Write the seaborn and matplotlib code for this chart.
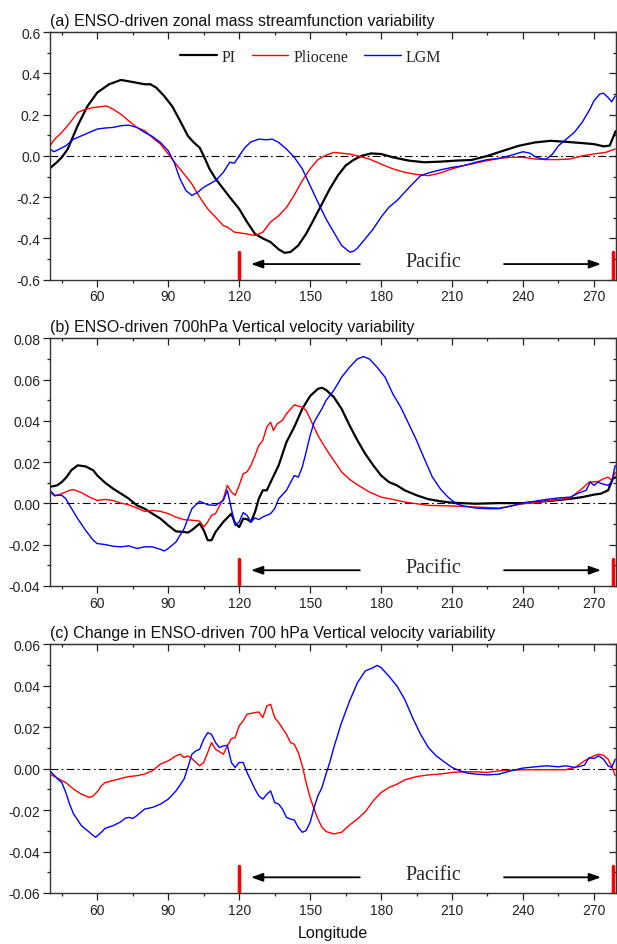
import matplotlib
matplotlib.use("Agg")
import matplotlib.pyplot as plt
import seaborn as sns

# -----------------------------
# Data
# -----------------------------
# (a) zonal mass streamfunction
a_pi_lon = [40, 43, 45, 47.5, 51.7, 55.8, 60, 65, 70, 75, 80, 82.5, 85, 88.3, 91.7, 95, 98.3, 100.8,
            103.3, 105, 107.5, 110, 113.3, 116.7, 120, 123.3, 126.7, 130, 133.3, 136.7, 139.2, 141.7,
            145, 148.3, 151.7, 155, 158.3, 161.7, 165, 168.3, 171.7, 175.8, 180, 185, 191.7, 198.3,
            205, 211.7, 218.3, 225, 231.7, 238.3, 245, 251.7, 258.3, 265, 270, 274.2, 276.7, 279.2]
a_pi = [-0.06, -0.03, -0.007, 0.033, 0.146, 0.24, 0.307, 0.347, 0.368, 0.358, 0.347, 0.347, 0.33,
        0.29, 0.24, 0.17, 0.097, 0.065, 0.04, 0.0, -0.064, -0.11, -0.16, -0.21, -0.257, -0.32,
        -0.378, -0.40, -0.418, -0.453, -0.47, -0.466, -0.434, -0.378, -0.305, -0.233, -0.16, -0.096,
        -0.047, -0.02, 0.0, 0.012, 0.009, -0.007, -0.023, -0.031, -0.028, -0.023, -0.02, 0.0, 0.025,
        0.049, 0.065, 0.073, 0.068, 0.062, 0.057, 0.046, 0.05, 0.12]

a_plio_lon = [40, 42, 45, 48, 51.7, 55, 58.3, 61.7, 64, 66.7, 70, 73.3, 76.7, 80, 83.3, 86.7, 90,
              93.3, 96.7, 100, 103.3, 106.7, 110, 113.3, 115, 118, 120, 123, 126.7, 130, 133.3,
              136.7, 140, 143.3, 146.7, 150, 153.3, 156.7, 160, 163.3, 166.7, 170, 175, 180, 185,
              190, 195, 200, 205, 210, 215, 220, 225, 230, 235, 240, 245, 250, 255, 260, 265, 270,
              275, 279]
a_plio = [0.049, 0.081, 0.114, 0.154, 0.21, 0.226, 0.234, 0.239, 0.242, 0.226, 0.202, 0.17, 0.138,
          0.122, 0.089, 0.057, 0.009, -0.04, -0.088, -0.136, -0.2, -0.257, -0.297, -0.338, -0.345,
          -0.37, -0.373, -0.378, -0.386, -0.37, -0.32, -0.29, -0.25, -0.19, -0.12, -0.063, -0.018,
          0.003, 0.017, 0.013, 0.009, 0.0, -0.015, -0.04, -0.063, -0.08, -0.09, -0.096, -0.083,
          -0.063, -0.047, -0.035, -0.023, -0.012, -0.007, -0.007, -0.015, -0.018, -0.018, -0.015,
          0.0, 0.009, 0.017, 0.033]

a_lgm_lon = [40, 41.7, 44, 46.7, 50, 53.3, 56.7, 60, 63.3, 66.7, 70, 73.3, 76.7, 80, 83.3, 86.7, 90,
             92.5, 95, 97.5, 100, 102.5, 105, 107.5, 110, 113.3, 116, 118, 120, 122.5, 125, 128.3,
             131.7, 134, 136.7, 140, 143.3, 146.7, 150, 153.3, 156.7, 160, 163.3, 166.7, 168.3, 170,
             173.3, 176.7, 180, 183.3, 186.7, 190, 193.3, 196.7, 200, 205, 210, 215, 220, 225, 230,
             235, 240, 243, 245, 248, 250, 252.5, 255, 258.3, 261.7, 265, 268.3, 270, 272.5, 274,
             276, 277.5, 279]
a_lgm = [0.033, 0.02, 0.033, 0.049, 0.081, 0.097, 0.114, 0.13, 0.135, 0.138, 0.146, 0.149, 0.138,
         0.114, 0.094, 0.065, 0.025, -0.031, -0.112, -0.168, -0.192, -0.176, -0.152, -0.136, -0.12,
         -0.08, -0.031, -0.035, 0.0, 0.041, 0.068, 0.081, 0.078, 0.081, 0.065, 0.033, -0.007,
         -0.063, -0.144, -0.225, -0.305, -0.37, -0.434, -0.466, -0.463, -0.447, -0.402, -0.354,
         -0.297, -0.249, -0.217, -0.176, -0.136, -0.096, -0.083, -0.068, -0.056, -0.047, -0.031,
         -0.018, -0.012, 0.003, 0.02, 0.013, -0.003, -0.015, -0.015, 0.009, 0.049, 0.081, 0.114,
         0.162, 0.226, 0.267, 0.3, 0.304, 0.283, 0.262, 0.29]

# (b) 700hPa vertical velocity
b_pi_lon = [40, 43, 45, 47, 49, 51.7, 55, 58.3, 60, 63.3, 66.7, 70, 73.3, 76.7, 80, 83.3, 86.7, 90,
            93.3, 96.7, 98.3, 100, 103.3, 105, 106.7, 108.3, 110, 113.3, 116.7, 118.3, 120, 121.7,
            123.3, 125, 126.7, 128.3, 130, 131.7, 133.3, 136.7, 140, 143.3, 146.7, 150, 153.3, 155,
            156.7, 160, 163.3, 166.7, 170, 173.3, 176.7, 180, 183.3, 186.7, 190, 195, 200, 205, 210,
            220, 230, 240, 250, 260, 265, 270, 273, 276, 278, 279.5]
b_pi = [0.008, 0.0087, 0.0103, 0.0127, 0.016, 0.0184, 0.0179, 0.016, 0.0135, 0.010, 0.0071, 0.0047,
        0.0023, -0.001, -0.0026, -0.005, -0.0074, -0.0107, -0.0136, -0.0139, -0.0142, -0.013,
        -0.0098, -0.013, -0.0179, -0.0179, -0.0139, -0.009, -0.005, -0.0098, -0.0115, -0.0074,
        -0.0077, -0.009, -0.0042, 0.0022, 0.0063, 0.0063, 0.0103, 0.0184, 0.0297, 0.037, 0.0458,
        0.052, 0.0555, 0.056, 0.055, 0.0515, 0.0458, 0.0377, 0.0305, 0.024, 0.0184, 0.0135, 0.0103,
        0.0087, 0.0063, 0.0039, 0.002, 0.001, 0.0003, -0.0002, 0.0001, 0.0001, 0.001, 0.0022, 0.003,
        0.0042, 0.0047, 0.0063, 0.012, 0.0127]

b_plio_lon = [40, 42, 45, 48.3, 50, 53.3, 56.7, 60, 63.3, 66.7, 70, 73.3, 76.7, 80, 83.3, 86.7, 90,
              93.3, 96.7, 100, 103.3, 105, 106.7, 108.3, 110, 113.3, 115, 116.7, 118.3, 120, 121.7,
              123.3, 125, 126.7, 128.3, 130, 131.7, 133.3, 134.5, 136, 138.3, 140, 143.3, 146.7,
              148.3, 150, 153.3, 156.7, 160, 163.3, 166.7, 170, 175, 180, 185, 190, 195, 200, 210,
              220, 230, 240, 250, 260, 265, 268, 272, 274, 276, 277.5, 279]
b_plio = [0.0055, 0.0035, 0.0047, 0.0063, 0.0066, 0.0052, 0.003, 0.0014, 0.0019, 0.0014, 0.0001,
          -0.0007, -0.0023, -0.0039, -0.0034, -0.0039, -0.005, -0.0067, -0.0079, -0.0082, -0.0086,
          -0.0115, -0.009, -0.0058, -0.005, 0.0022, 0.0087, 0.0055, 0.0039, 0.0087, 0.0143, 0.0152,
          0.0184, 0.0232, 0.028, 0.0305, 0.037, 0.0393, 0.0353, 0.0385, 0.0402, 0.0434, 0.0477,
          0.0466, 0.045, 0.041, 0.0329, 0.0264, 0.0208, 0.0152, 0.0116, 0.009, 0.0055, 0.003,
          0.0019, 0.0006, -0.0002, -0.001, -0.0013, -0.0018, -0.0023, -0.0002, 0.001, 0.0026,
          0.0071, 0.0103, 0.0106, 0.0119, 0.0127, 0.0111, 0.015]

b_lgm_lon = [40, 42, 45, 46.7, 48.3, 50, 51.7, 55, 58.3, 60, 63.3, 66.7, 70, 73.3, 76.7, 80, 83.3,
             86.7, 88.3, 90, 93.3, 96.7, 100, 103.3, 106.7, 110, 113.3, 115, 116.7, 118.3, 120,
             121.7, 123.3, 125, 126.7, 128.3, 130, 133.3, 135, 136.7, 140, 143.3, 145, 146.7, 148.3,
             150, 151.7, 153.3, 155, 156.7, 160, 163.3, 166.7, 170, 172.5, 175, 178.3, 181.7, 185,
             188.3, 191.7, 195, 198.3, 201.7, 205, 208.3, 211.7, 215, 220, 225, 230, 235, 240, 245,
             250, 255, 260, 263, 266.7, 268.5, 270, 271.7, 273.3, 276, 277.5, 279]
b_lgm = [0.0063, 0.0039, 0.0039, 0.0022, -0.001, -0.0042, -0.0074, -0.013, -0.0179, -0.0195, -0.02,
         -0.0208, -0.0211, -0.0206, -0.0219, -0.0211, -0.0211, -0.0223, -0.0231, -0.0219, -0.0187,
         -0.0123, -0.0026, 0.001, -0.0007, -0.001, 0.0014, 0.0063, -0.0026, -0.0107, -0.009,
         -0.0045, -0.0058, -0.009, -0.0071, -0.0079, -0.0066, -0.005, -0.0026, 0.0022, 0.0063,
         0.0135, 0.0127, 0.0176, 0.0248, 0.0329, 0.0393, 0.0426, 0.0458, 0.0498, 0.0547, 0.0611,
         0.066, 0.07, 0.0711, 0.07, 0.066, 0.0611, 0.053, 0.0466, 0.0385, 0.0305, 0.0216, 0.0127,
         0.0071, 0.003, -0.0002, -0.0013, -0.0023, -0.0026, -0.0026, -0.0013, 0.0001, 0.001,
         0.0019, 0.0026, 0.003, 0.0047, 0.0063, 0.0103, 0.0087, 0.0103, 0.0095, 0.0087, 0.0103,
         0.0184]

# (c) change in 700 hPa vertical velocity
c_plio_lon = [40, 43.3, 46.7, 50, 53.3, 56.7, 58.3, 60, 61.7, 63.3, 66.7, 70, 73.3, 76.7, 80, 83.3,
              86.7, 90, 93.3, 95, 96.7, 98.3, 100, 103.3, 105, 106.7, 108.3, 110, 113.3, 115,
              116.7, 118.3, 120, 121.7, 123.3, 126.7, 128.3, 130, 131.7, 133.3, 135, 136.7, 140,
              141.7, 143.3, 145, 146.7, 148.3, 150, 151.7, 153.3, 155, 156.7, 160, 163.3, 166.7,
              170, 173.3, 176.7, 180, 183.3, 186.7, 190, 195, 200, 205, 210, 215, 220, 225, 230,
              240, 250, 258, 262, 266, 270, 272, 274, 276, 278, 279]
c_plio = [-0.0026, -0.0047, -0.0067, -0.0099, -0.0123, -0.0139, -0.0131, -0.0111, -0.0083, -0.0067,
          -0.0057, -0.0047, -0.0038, -0.0034, -0.0026, -0.001, 0.0022, 0.0038, 0.0062, 0.007,
          0.0054, 0.0062, 0.0049, 0.0014, 0.003, 0.0078, 0.0126, 0.0094, 0.007, 0.011, 0.0145,
          0.015, 0.0207, 0.0231, 0.0263, 0.0271, 0.0274, 0.0247, 0.0303, 0.0311, 0.0247, 0.0223,
          0.0166, 0.0126, 0.0118, 0.0078, 0.0014, -0.0067, -0.0139, -0.0195, -0.0243, -0.0283,
          -0.0303, -0.0315, -0.0307, -0.0272, -0.0243, -0.0208, -0.0155, -0.0115, -0.0091, -0.0075,
          -0.0054, -0.0038, -0.003, -0.0026, -0.0018, -0.0015, -0.0015, -0.0018, -0.001, -0.0005,
          -0.0005, -0.0005, 0.0006, 0.0038, 0.0062, 0.007, 0.0065, 0.0046, -0.0002, -0.0034]

c_lgm_lon = [40, 43.3, 45, 46.7, 48.3, 50, 53.3, 56.7, 58.3, 59.3, 61.7, 63.3, 66.7, 70, 71.7, 73.3,
             75, 76.7, 80, 83.3, 86.7, 90, 93.3, 96.7, 98.3, 100, 101.7, 103.3, 105, 106.7, 108.3,
             110, 111.7, 113.3, 115, 116.7, 118.3, 120, 121.7, 123.3, 125, 126.7, 128.3, 130, 131.7,
             133.3, 135, 136.7, 138.3, 140, 141.7, 143.3, 145, 146.7, 148.3, 150, 151.7, 153.3, 155,
             156.7, 158.3, 160, 163.3, 166.7, 170, 173.3, 176.7, 178.3, 180, 183.3, 186.7, 190,
             193.3, 196.7, 200, 203.3, 206.7, 210, 213.3, 216.7, 220, 225, 230, 235, 240, 245, 250,
             255, 258, 262, 266, 268, 270, 272, 274, 276, 277.5, 279]
c_lgm = [-0.001, -0.005, -0.0067, -0.0115, -0.0171, -0.0219, -0.0275, -0.0307, -0.0323, -0.0331,
         -0.0307, -0.0288, -0.0275, -0.0256, -0.024, -0.0235, -0.024, -0.0227, -0.0195, -0.0187,
         -0.0171, -0.0147, -0.0107, -0.005, 0.0006, 0.007, 0.0086, 0.0094, 0.0142, 0.0174, 0.0166,
         0.0126, 0.0102, 0.011, 0.0113, 0.003, 0.0006, 0.003, 0.003, -0.0018, -0.0058, -0.0099,
         -0.0131, -0.0147, -0.0123, -0.0107, -0.0163, -0.0171, -0.0195, -0.0235, -0.0243, -0.0248,
         -0.0283, -0.0307, -0.0299, -0.0259, -0.0187, -0.0131, -0.0091, -0.0026, 0.003, 0.0102,
         0.0223, 0.0327, 0.0415, 0.0472, 0.0488, 0.0499, 0.0488, 0.0447, 0.0399, 0.0335, 0.0247,
         0.0166, 0.0102, 0.0062, 0.0033, 0.0006, -0.001, -0.0022, -0.0026, -0.003, -0.0026, -0.001,
         0.0003, 0.0009, 0.0014, 0.0009, 0.0014, 0.0006, 0.0017, 0.0054, 0.0049, 0.0062, 0.0046,
         0.0014, 0.0006, 0.0046]

pacific_edges = [120, 278]
x_major = [60, 90, 120, 150, 180, 210, 240, 270]
x_minor = [45, 75, 105, 135, 165, 195, 225, 255]

titles = ["(a) ENSO-driven zonal mass streamfunction variability",
          "(b) ENSO-driven 700hPa Vertical velocity variability",
          "(c) Change in ENSO-driven 700 hPa Vertical velocity variability"]
ylims = [(-0.6, 0.6), (-0.04, 0.08), (-0.06, 0.06)]
ysteps = [0.2, 0.02, 0.02]
yfmts = ["{:.1f}", "{:.2f}", "{:.2f}"]

# Style
sns.set_style("ticks")
plt.rcParams["font.family"] = ["Liberation Sans", "DejaVu Sans"]
plt.rcParams["axes.unicode_minus"] = False

fig = plt.figure(figsize=(6.17, 9.45), dpi=100)
boxes = [[0.081, 0.703, 0.918, 0.262],
         [0.081, 0.379, 0.918, 0.262],
         [0.081, 0.054, 0.918, 0.263]]
axes = [fig.add_axes(b) for b in boxes]


def decorate(ax, i):
    lo, hi = ylims[i]
    step = ysteps[i]
    n = int(round((hi - lo) / step))
    ymaj = [lo + k * step for k in range(n + 1)]
    ymin = [lo + (k + 0.5) * step for k in range(n)]

    ax.set_xlim(40, 279.5)
    ax.set_ylim(lo, hi)
    ax.set_xticks(x_major)
    ax.set_xticks(x_minor, minor=True)
    ax.set_yticks(ymaj)
    ax.set_yticks(ymin, minor=True)
    ax.set_yticklabels([yfmts[i].format(v) for v in ymaj])
    ax.tick_params(which="both", direction="out", labelsize=10, colors="#222222",
                   width=0.9, pad=2)
    ax.tick_params(which="major", length=5)
    ax.tick_params(which="minor", length=2.5)
    for s in ax.spines.values():
        s.set_linewidth(1.0)
        s.set_color("#333333")

    # inward ticks on top and right
    top = ax.secondary_xaxis("top")
    top.set_xticks(x_major)
    top.set_xticks(x_minor, minor=True)
    top.tick_params(which="both", direction="in", labeltop=False, width=0.9, colors="#222222")
    top.tick_params(which="major", length=5)
    top.tick_params(which="minor", length=2.5)
    right = ax.secondary_yaxis("right")
    right.set_yticks(ymaj)
    right.set_yticks(ymin, minor=True)
    right.tick_params(which="both", direction="in", labelright=False, width=0.9, colors="#222222")
    right.tick_params(which="major", length=5)
    right.tick_params(which="minor", length=2.5)

    # zero line
    ax.axhline(0, color="black", lw=0.8, dashes=(7, 3, 1.5, 3), zorder=1)

    # Pacific markers
    for e in pacific_edges:
        ax.axvline(e, ymin=0, ymax=0.11, color="red", lw=2.5, zorder=5)
    arrow = dict(arrowstyle="-|>,head_length=0.7,head_width=0.25", color="black", lw=1.3,
                 shrinkA=0, shrinkB=0)
    ax.annotate("", xy=(125, 0.063), xytext=(171, 0.063),
                xycoords=("data", "axes fraction"), arrowprops=arrow)
    ax.annotate("", xy=(273, 0.063), xytext=(232, 0.063),
                xycoords=("data", "axes fraction"), arrowprops=arrow)
    ax.text(202, 0.075, "Pacific", transform=ax.get_xaxis_transform(), ha="center",
            va="center", fontsize=14.5, family=["Liberation Serif", "DejaVu Serif"])

    ax.set_title(titles[i], loc="left", fontsize=11.5, pad=5, color="#111111")
    ax.set_xlabel("")
    ax.set_ylabel("")


# ==========================================================
# (a) streamfunction
# ==========================================================
ax = axes[0]
sns.lineplot(x=a_pi_lon, y=a_pi, color="black", lw=1.6, label="PI", ax=ax, estimator=None)
sns.lineplot(x=a_plio_lon, y=a_plio, color="red", lw=1.0, label="Pliocene", ax=ax, estimator=None)
sns.lineplot(x=a_lgm_lon, y=a_lgm, color="blue", lw=1.0, label="LGM", ax=ax, estimator=None)
decorate(ax, 0)
ax.legend(loc="center", bbox_to_anchor=(0.46, 0.9), ncol=3, frameon=False,
          prop={"family": ["Liberation Serif", "DejaVu Serif"], "size": 11.5},
          handlelength=2.3, handletextpad=0.3, columnspacing=1.0)

# ==========================================================
# (b) vertical velocity
# ==========================================================
ax = axes[1]
sns.lineplot(x=b_pi_lon, y=b_pi, color="black", lw=1.6, ax=ax, estimator=None)
sns.lineplot(x=b_plio_lon, y=b_plio, color="red", lw=1.0, ax=ax, estimator=None)
sns.lineplot(x=b_lgm_lon, y=b_lgm, color="blue", lw=1.0, ax=ax, estimator=None)
decorate(ax, 1)

# ==========================================================
# (c) change in vertical velocity
# ==========================================================
ax = axes[2]
sns.lineplot(x=c_plio_lon, y=c_plio, color="red", lw=1.0, ax=ax, estimator=None)
sns.lineplot(x=c_lgm_lon, y=c_lgm, color="blue", lw=1.0, ax=ax, estimator=None)
decorate(ax, 2)
ax.set_xlabel("Longitude", fontsize=11.5, labelpad=6, color="#111111")

fig.savefig("out.png", dpi=100)
plt.close()
